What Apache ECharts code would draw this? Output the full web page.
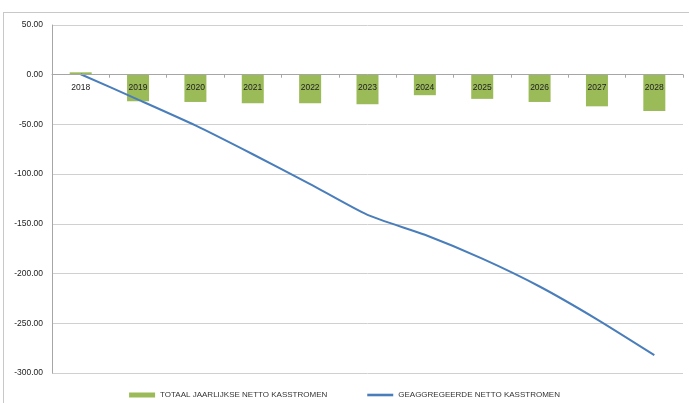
<!DOCTYPE html>
<html><head><meta charset="utf-8">
<script src="https://cdn.jsdelivr.net/npm/echarts@6/dist/echarts.min.js"></script>
<style>html,body{margin:0;padding:0;background:#fff}#c{width:689px;height:403px}
#frame{position:absolute;left:3px;top:12px;width:700px;height:400px;border:1px solid #c8c8c8;pointer-events:none}</style>
</head><body><div id="c"></div><div id="frame"></div>
<script>
const categories = ['2018','2019','2020','2021','2022','2023','2024','2025','2026','2027','2028'];
const yearlyNet = [2.4, -26.7, -27.4, -28.7, -28.7, -29.7, -20.6, -24.3, -27.4, -31.8, -36.5];
const cumulativeNet = [0.5, -25, -51, -80, -110, -141, -161, -185, -213, -246, -282];
const seriesNames = ['TOTAAL JAARLIJKSE NETTO KASSTROMEN', 'GEAGGREGEERDE NETTO KASSTROMEN'];
const font = '"Liberation Sans Narrow", "Liberation Sans", sans-serif';
const gridTop = 25, gridBottom = 30, H = 403;
const yMin = -300, yMax = 50;
const zeroOffset = -((H - gridTop - gridBottom) * (0 - yMin) / (yMax - yMin));
const chart = echarts.init(document.getElementById('c'));
chart.setOption({
  animation: false,
  textStyle: { fontFamily: font },
  grid: { left: 52, right: 6, top: gridTop, bottom: gridBottom },
  legend: {
    bottom: -1, left: 'center', itemGap: 40, itemWidth: 26, itemHeight: 5,
    textStyle: { fontSize: 8, color: '#333', fontFamily: font },
    data: [
      { name: seriesNames[0], icon: 'rect' },
      { name: seriesNames[1], icon: 'path://M0,0 L10,0 L10,1 L0,1 Z' }
    ]
  },
  xAxis: {
    type: 'category', data: categories, position: 'bottom', offset: zeroOffset, z: 20,
    axisLine: { onZero: false, lineStyle: { color: '#a6a6a6' } },
    axisTick: { show: true, length: 3, lineStyle: { color: '#a6a6a6' } },
    axisLabel: { fontSize: 8.5, color: '#222', margin: 8, fontFamily: font }
  },
  yAxis: {
    type: 'value', min: yMin, max: yMax, interval: 50,
    axisLine: { show: true, lineStyle: { color: '#a6a6a6' } },
    axisTick: { show: false },
    splitLine: { lineStyle: { color: '#d0d0d0' } },
    axisLabel: { fontSize: 8.5, color: '#222', margin: 9, fontFamily: font,
      formatter: v => v.toFixed(2) }
  },
  series: [
    { name: seriesNames[0], type: 'bar', data: yearlyNet, barWidth: 22,
      itemStyle: { color: '#9bbb59' }, z: 1 },
    { name: seriesNames[1], type: 'line', data: cumulativeNet, smooth: 0.2,
      showSymbol: false, symbol: 'none',
      lineStyle: { color: '#4a7ebb', width: 2 }, itemStyle: { color: '#4a7ebb' }, z: 3 }
  ]
});
</script></body></html>
